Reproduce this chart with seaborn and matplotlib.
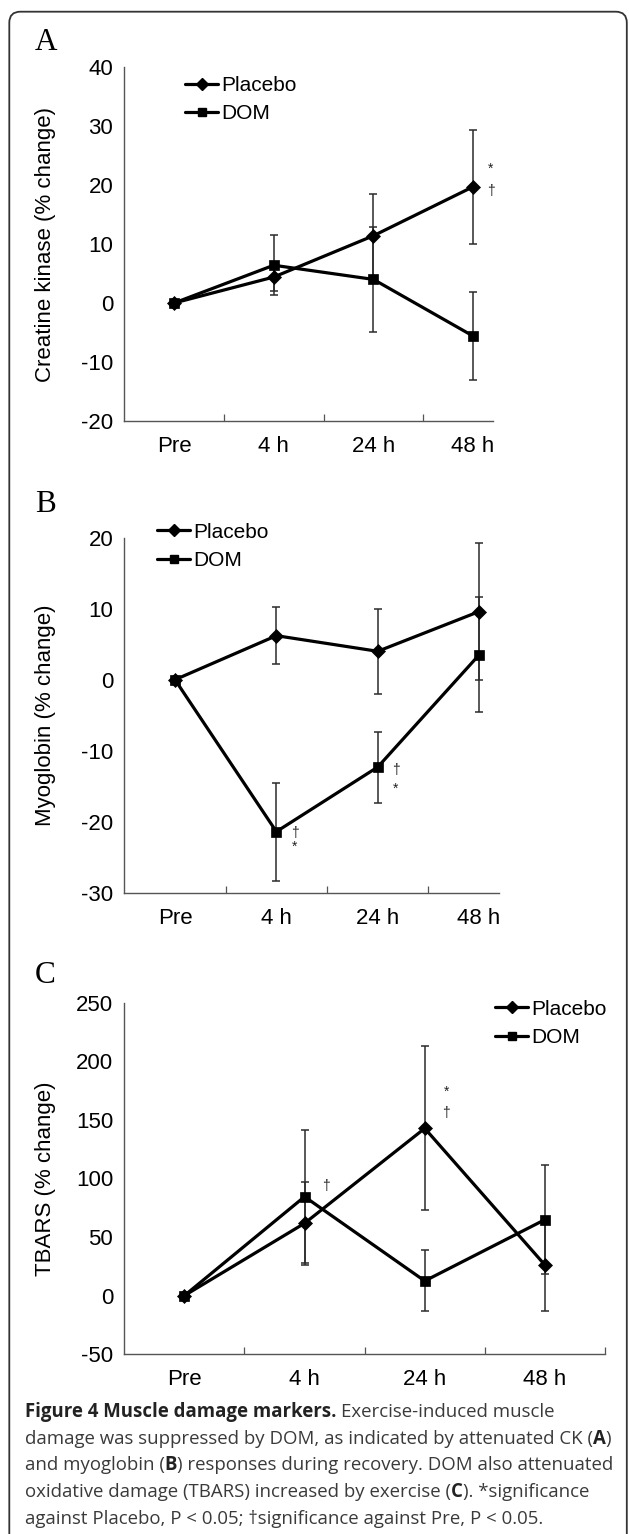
import numpy as np
import pandas as pd
import matplotlib
matplotlib.use("Agg")
import matplotlib.pyplot as plt
import seaborn as sns
from matplotlib.lines import Line2D
from matplotlib.patches import FancyBboxPatch
from matplotlib.transforms import IdentityTransform

# ---------------- data ----------------
time_labels = ["Pre", "4 h", "24 h", "48 h"]
groups = ["Placebo", "DOM"]

ck_placebo = [0, 4.4, 11.4, 19.7]
ck_placebo_se = [0, 2.3, 7.1, 9.7]
ck_dom = [0, 6.4, 4.0, -5.6]
ck_dom_se = [0, 5.1, 8.9, 7.4]

mb_placebo = [0, 6.2, 4.0, 9.6]
mb_placebo_se = [0, 4.0, 6.0, 9.7]
mb_dom = [0, -21.4, -12.3, 3.5]
mb_dom_se = [0, 6.9, 5.0, 8.1]

tb_placebo = [0, 61.7, 142.7, 26.1]
tb_placebo_se = [0, 35.6, 70.0, 39.0]
tb_dom = [0, 84.4, 12.5, 64.8]
tb_dom_se = [0, 57.0, 26.0, 46.5]

ck_yticks = [-20, -10, 0, 10, 20, 30, 40]
mb_yticks = [-30, -20, -10, 0, 10, 20]
tb_yticks = [-50, 0, 50, 100, 150, 200, 250]

ck_ylabel = "Creatine kinase (% change)"
mb_ylabel = "Myoglobin (% change)"
tb_ylabel = "TBARS (% change)"

# significance marks: (symbol, category index, y value)
ck_marks = [("*", 3, 22.8), ("\u2020", 3, 18.9)]
mb_marks = [("\u2020", 1, -21.6), ("*", 1, -23.5), ("\u2020", 2, -12.7), ("*", 2, -15.4)]
tb_marks = [("\u2020", 1, 93.5), ("*", 2, 173.6), ("\u2020", 2, 155.7)]

caption_lines = [
    [("Figure 4 Muscle damage markers.", True), (" ", False), ("Exercise-induced muscle", False)],
    [("damage was suppressed by DOM, as indicated by attenuated CK (", False), ("A", True), (")", False)],
    [("and myoglobin (", False), ("B", True), (") responses during recovery. DOM also attenuated", False)],
    [("oxidative damage (TBARS) increased by exercise (", False), ("C", True), ("). *significance", False)],
    [("against Placebo, P < 0.05; \u2020significance against Pre, P < 0.05.", False)],
]

# ---------------- style ----------------
sns.set_style("white")
plt.rcParams["font.family"] = ["Liberation Sans", "DejaVu Sans"]
plt.rcParams["text.color"] = "black"
plt.rcParams["axes.labelcolor"] = "black"
plt.rcParams["xtick.color"] = "black"
plt.rcParams["ytick.color"] = "black"
plt.rcParams["axes.unicode_minus"] = False

W, H = 629, 1534
fig = plt.figure(figsize=(W / 100, H / 100), dpi=100)
fig.patch.set_facecolor("white")


def px_axes(left, top, right, bottom):
    return fig.add_axes([left / W, 1 - bottom / H, (right - left) / W, (bottom - top) / H])


def draw_panel(rect, plac, plac_se, dom, dom_se, yticks, ylabel, xmax, marks, leg_x, leg_ymid):
    left, top, right, bottom = rect
    ax = px_axes(*rect)
    x = np.arange(len(time_labels))
    df = pd.DataFrame({
        "x": np.concatenate([x, x]),
        "group": [groups[0]] * len(x) + [groups[1]] * len(x),
        "value": list(plac) + list(dom),
    })
    ax.errorbar(x, plac, yerr=plac_se, fmt="none", ecolor="#2b2b2b", elinewidth=1.1,
                capsize=3, capthick=1.1, zorder=2)
    ax.errorbar(x, dom, yerr=dom_se, fmt="none", ecolor="#2b2b2b", elinewidth=1.1,
                capsize=3, capthick=1.1, zorder=2)
    sns.lineplot(data=df, x="x", y="value", style="group", style_order=groups,
                 markers={"Placebo": "D", "DOM": "s"}, dashes=False, color="black",
                 linewidth=2.3, markersize=7.5, markeredgecolor="black",
                 markeredgewidth=0.5, legend=False, ax=ax, zorder=3)
    ax.set_xlim(-0.5, xmax)
    ax.set_ylim(yticks[0], yticks[-1])
    ax.set_yticks(yticks)
    ax.set_xticks(x)
    ax.set_xticklabels(time_labels)
    minor = [i + 0.5 for i in x if i + 0.5 <= xmax]
    ax.set_xticks(minor, minor=True)
    ax.tick_params(axis="x", which="major", length=0, pad=11, labelsize=16)
    ax.tick_params(axis="x", which="minor", direction="in", length=5, width=0.9,
                   color="#555555", bottom=True)
    ax.tick_params(axis="y", length=0, pad=8, labelsize=16)
    for s in ["top", "right"]:
        ax.spines[s].set_visible(False)
    for s in ["left", "bottom"]:
        ax.spines[s].set_color("#555555")
        ax.spines[s].set_linewidth(1.0)
    ax.set_xlabel("")
    ax.set_ylabel(ylabel, fontsize=16)
    ax.yaxis.set_label_coords((56 - left) / (right - left), 0.5)
    ax.grid(False)
    for sym, i, yv in marks:
        ax.text(i + 0.18, yv, sym, ha="center", va="center", fontsize=10, color="#222222")
    handles = [
        Line2D([], [], color="black", lw=2.3, marker="D", ms=6, mec="black"),
        Line2D([], [], color="black", lw=2.3, marker="s", ms=5.5, mec="black"),
    ]
    ax.legend(handles, groups, loc="center left",
              bbox_to_anchor=(leg_x / W, 1 - leg_ymid / H), bbox_transform=fig.transFigure,
              frameon=False, fontsize=15, handlelength=1.6, handletextpad=0.12,
              labelspacing=0.45, borderpad=0, borderaxespad=0, numpoints=1)
    return ax


axA = draw_panel((124.3, 67, 493, 421), ck_placebo, ck_placebo_se, ck_dom, ck_dom_se,
                 ck_yticks, ck_ylabel, 3.2, ck_marks, 185, 99.5)
axB = draw_panel((124.3, 537.7, 499.4, 892.7), mb_placebo, mb_placebo_se, mb_dom, mb_dom_se,
                 mb_yticks, mb_ylabel, 3.2, mb_marks, 157, 546.3)
axC = draw_panel((124.3, 1002.6, 605, 1354.2), tb_placebo, tb_placebo_se, tb_dom, tb_dom_se,
                 tb_yticks, tb_ylabel, 3.5, tb_marks, 495, 1023.3)

# panel letters
for letter, base in [("A", 50), ("B", 512), ("C", 983)]:
    fig.text(35 / W, 1 - base / H, letter, family=["Liberation Serif", "DejaVu Serif"],
             fontsize=22.5, va="baseline", ha="left", color="black")

# caption
renderer = fig.canvas.get_renderer()
cap_family = ["Open Sans", "DejaVu Sans"]


def text_width(s, size, bold):
    t = fig.text(0, 0, s, fontsize=size, fontweight="bold" if bold else "normal", family=cap_family)
    w = t.get_window_extent(renderer).width
    t.remove()
    return w


probe = 12.0
line3 = "".join(s for s, _ in caption_lines[2])
w3 = text_width(line3, probe, False)
cap_size = probe * 585.0 / w3
space_w = text_width("a a", cap_size, False) - text_width("aa", cap_size, False)

baselines = [1417, 1444, 1470, 1497, 1524]
for segs, yb in zip(caption_lines, baselines):
    xpos = 25.0
    for s, bold in segs:
        if s == " ":
            xpos += space_w
            continue
        t = fig.text(xpos / W, 1 - yb / H, s, fontsize=cap_size,
                     fontweight="bold" if bold else "normal", family=cap_family,
                     color="#222222" if bold else "#3a3a3a", va="baseline", ha="left")
        xpos += t.get_window_extent(renderer).width

# frame
frame = FancyBboxPatch((9.3, -30), 617.5, (H - 11.7) + 30,
                       boxstyle="round,pad=0,rounding_size=11",
                       transform=IdentityTransform(), fill=False,
                       edgecolor="#333333", linewidth=1.3)
fig.add_artist(frame)

fig.savefig("out.png", dpi=100)
